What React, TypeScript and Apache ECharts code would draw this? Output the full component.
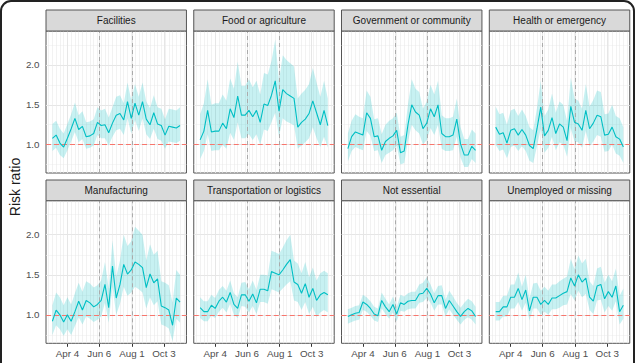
import React, { useEffect, useRef } from 'react';
import * as echarts from 'echarts';

const panelNames = ['Facilities', 'Food or agriculture', 'Government or community', 'Health or emergency', 'Manufacturing', 'Transportation or logistics', 'Not essential', 'Unemployed or missing'];

const xTickPos = [4, 12.5, 21.2, 29.7];
const xTickLabels = ['Apr 4', 'Jun 6', 'Aug 1', 'Oct 3'];
const refLinePos = [12.5, 21.2];
const yTickValues = [1.0, 1.5, 2.0];
const yGridMinor = [0.75, 1.25, 1.75, 2.25];

const facMid = [1.08,1.12,1.02,0.97,1.08,1.2,1.33,1.19,1.23,1.1,1.11,1.14,1.28,1.24,1.25,1.15,1.27,1.37,1.39,1.31,1.54,1.33,1.52,1.37,1.54,1.32,1.25,1.4,1.26,1.24,1.12,1.23,1.22,1.21,1.24];
const facHi = [1.26,1.3,1.2,1.14,1.26,1.38,1.53,1.37,1.42,1.28,1.29,1.32,1.47,1.43,1.45,1.34,1.47,1.6,1.62,1.52,1.78,1.56,1.76,1.6,1.78,1.54,1.46,1.62,1.47,1.45,1.32,1.45,1.44,1.43,1.47];
const facLo = [0.92,0.96,0.87,0.83,0.93,1.04,1.16,1.03,1.07,0.95,0.96,0.99,1.12,1.08,1.08,0.99,1.1,1.18,1.2,1.12,1.33,1.14,1.31,1.17,1.33,1.13,1.07,1.2,1.07,1.05,0.95,1.04,1.03,1.02,1.05];

const foodMid = [1.06,1.17,1.43,1.16,1.17,1.17,1.27,1.2,1.45,1.34,1.61,1.37,1.37,1.43,1.35,1.43,1.28,1.51,1.49,1.62,1.8,1.42,1.69,1.64,1.61,1.58,1.22,1.28,1.32,1.39,1.55,1.4,1.25,1.43,1.24];
const foodHi = [1.38,1.52,1.82,1.5,1.52,1.52,1.63,1.55,1.83,1.7,2.04,1.74,1.74,1.82,1.72,1.8,1.63,1.9,1.88,2.05,2.32,1.8,2.12,2.06,2.02,1.98,1.58,1.64,1.69,1.76,1.96,1.78,1.6,1.8,1.58];
const foodLo = [0.82,0.92,1.13,0.92,0.93,0.93,1.0,0.95,1.15,1.06,1.28,1.08,1.08,1.13,1.06,1.13,1.0,1.19,1.17,1.28,1.4,1.1,1.33,1.29,1.27,1.24,0.95,0.99,1.03,1.08,1.22,1.08,0.97,1.1,0.96];

const govMid = [0.95,1.1,1.16,1.14,1.12,1.4,1.33,1.1,1.11,0.93,1.04,1.08,1.11,1.18,0.9,0.92,1.25,1.5,1.41,1.37,1.2,1.27,1.45,1.35,1.5,1.14,1.1,1.1,1.12,1.32,1.01,0.87,0.87,0.98,0.93];
const govHi = [1.14,1.3,1.38,1.35,1.33,1.68,1.6,1.32,1.33,1.13,1.25,1.3,1.33,1.4,1.1,1.12,1.5,1.82,1.7,1.66,1.45,1.54,1.75,1.63,1.8,1.37,1.33,1.33,1.35,1.58,1.22,1.07,1.07,1.19,1.14];
const govLo = [0.79,0.92,0.97,0.95,0.93,1.17,1.11,0.92,0.93,0.77,0.87,0.9,0.93,0.99,0.75,0.77,1.04,1.25,1.18,1.14,1.0,1.06,1.21,1.12,1.25,0.95,0.92,0.92,0.93,1.1,0.84,0.72,0.72,0.82,0.77];

const healthMid = [1.22,1.13,1.15,1.02,1.18,1.2,1.12,1.19,1.12,0.99,0.95,1.2,1.47,1.11,1.18,1.34,1.14,1.26,1.22,1.05,1.48,1.28,1.26,1.18,1.43,1.2,1.27,1.37,1.35,1.12,1.13,1.22,1.1,1.07,0.97];
const healthHi = [1.48,1.38,1.4,1.25,1.43,1.45,1.36,1.44,1.36,1.22,1.18,1.46,1.8,1.36,1.44,1.64,1.4,1.54,1.5,1.3,1.84,1.58,1.55,1.45,1.76,1.48,1.56,1.68,1.66,1.38,1.39,1.5,1.36,1.33,1.22];
const healthLo = [1.0,0.92,0.94,0.83,0.97,0.99,0.92,0.98,0.92,0.8,0.77,0.98,1.2,0.9,0.96,1.1,0.93,1.03,1.0,0.85,1.21,1.04,1.03,0.96,1.17,0.98,1.04,1.12,1.1,0.91,0.92,1.0,0.89,0.86,0.77];

const mfgMid = [0.92,1.06,1.0,0.91,1.0,0.92,1.04,1.17,1.06,1.18,1.15,1.1,1.13,1.18,1.38,1.09,1.61,1.21,1.38,1.63,1.51,1.56,1.66,1.63,1.59,1.34,1.51,1.4,1.45,1.11,1.09,1.06,0.87,1.21,1.16];
const mfgHi = [1.12,1.28,1.22,1.12,1.22,1.13,1.27,1.4,1.29,1.42,1.39,1.34,1.37,1.43,1.66,1.33,1.93,1.48,1.68,2.0,1.86,1.92,2.1,2.05,2.0,1.68,1.88,1.75,1.8,1.42,1.4,1.37,1.15,1.56,1.5];
const mfgLo = [0.75,0.87,0.82,0.74,0.82,0.75,0.86,0.97,0.88,0.98,0.95,0.91,0.94,0.98,1.15,0.9,1.35,1.0,1.14,1.35,1.24,1.28,1.35,1.32,1.28,1.08,1.22,1.12,1.17,0.88,0.86,0.83,0.67,0.95,0.9];

const trMid = [1.09,1.04,1.04,1.12,1.08,1.17,1.22,1.16,1.28,1.13,1.08,1.25,1.25,1.17,1.26,1.15,1.32,1.32,1.3,1.54,1.52,1.5,1.56,1.63,1.69,1.41,1.38,1.27,1.39,1.22,1.33,1.18,1.25,1.28,1.25];
const trHi = [1.22,1.17,1.17,1.25,1.21,1.31,1.36,1.3,1.43,1.27,1.22,1.4,1.41,1.32,1.43,1.31,1.5,1.5,1.49,1.8,1.78,1.76,1.84,1.93,2.0,1.68,1.64,1.52,1.66,1.47,1.59,1.43,1.52,1.55,1.52];
const trLo = [0.96,0.92,0.92,0.99,0.96,1.04,1.09,1.03,1.14,1.0,0.96,1.11,1.1,1.03,1.11,1.01,1.16,1.16,1.14,1.32,1.3,1.28,1.33,1.38,1.42,1.18,1.16,1.06,1.16,1.01,1.1,0.97,1.03,1.06,1.03];

const neMid = [0.98,1.0,1.02,1.03,1.16,1.13,1.08,1.01,0.99,1.18,1.1,1.04,1.13,1.01,1.15,1.13,1.17,1.18,1.18,1.26,1.27,1.33,1.26,1.15,1.24,1.24,1.08,1.18,1.11,1.04,0.98,1.04,1.08,1.05,0.98];
const neHi = [1.07,1.09,1.11,1.12,1.25,1.22,1.17,1.1,1.08,1.28,1.2,1.13,1.23,1.1,1.25,1.23,1.27,1.29,1.29,1.38,1.4,1.47,1.38,1.27,1.36,1.37,1.19,1.3,1.23,1.15,1.09,1.15,1.2,1.17,1.1];
const neLo = [0.89,0.91,0.93,0.94,1.06,1.04,0.99,0.93,0.91,1.08,1.01,0.95,1.03,0.92,1.05,1.04,1.07,1.08,1.08,1.15,1.16,1.21,1.15,1.05,1.13,1.13,0.98,1.07,1.0,0.94,0.88,0.94,0.97,0.94,0.88];

const unMid = [1.04,1.04,1.1,1.1,1.22,1.22,1.33,1.19,1.31,1.05,1.22,1.22,1.13,1.18,1.13,1.21,1.21,1.24,1.27,1.29,1.46,1.36,1.5,1.41,1.46,1.22,1.17,1.36,1.38,1.2,1.29,1.22,1.36,1.04,1.12];
const unHi = [1.16,1.16,1.24,1.24,1.38,1.38,1.53,1.35,1.5,1.2,1.39,1.4,1.3,1.35,1.3,1.38,1.38,1.42,1.45,1.48,1.7,1.57,1.74,1.64,1.7,1.42,1.36,1.58,1.6,1.4,1.5,1.42,1.58,1.24,1.33];
const unLo = [0.93,0.93,0.98,0.98,1.08,1.08,1.16,1.05,1.15,0.93,1.08,1.08,1.0,1.04,1.0,1.07,1.07,1.09,1.12,1.13,1.26,1.18,1.3,1.22,1.26,1.06,1.01,1.18,1.19,1.03,1.11,1.05,1.17,0.88,0.95];

const mids = [facMid, foodMid, govMid, healthMid, mfgMid, trMid, neMid, unMid];
const his = [facHi, foodHi, govHi, healthHi, mfgHi, trHi, neHi, unHi];
const los = [facLo, foodLo, govLo, healthLo, mfgLo, trLo, neLo, unLo];

const FONT = '"Liberation Sans", Arial, Helvetica, sans-serif';
const LINE_COLOR = '#00BFC4';
const RIBBON = 'rgba(0,191,196,0.22)';

const colLefts = [46, 193.75, 341.5, 489.3];
const panelW = 140.45;
const panelTops = [31, 200.7];
const panelHs = [142, 142.6];
const stripTops = [10, 180];
const X_MIN = -1.7;
const X_MAX = 35.7;
const Y_MIN = 0.645;
const Y_MAX = 2.425;

export default function App() {
  const ref = useRef<HTMLDivElement>(null);
  useEffect(() => {
    if (!ref.current) return;
    const chart = echarts.init(ref.current, null, { renderer: 'svg' });
    const grids: any[] = [];
    const xAxes: any[] = [];
    const yAxes: any[] = [];
    const series: any[] = [];
    const graphics: any[] = [];

    const gridLineData: any[] = [];
    yTickValues.forEach(v => gridLineData.push({ yAxis: v, lineStyle: { color: '#e6e6e6', width: 1, type: 'solid' } }));
    yGridMinor.forEach(v => gridLineData.push({ yAxis: v, lineStyle: { color: '#f0f0f0', width: 0.6, type: 'solid' } }));
    for (let i = Math.ceil(X_MIN); i <= Math.floor(X_MAX); i++) {
      gridLineData.push({ xAxis: i, lineStyle: { color: '#eaeaea', width: 0.6, type: 'solid' } });
    }
    xTickPos.forEach(v => gridLineData.push({ xAxis: v, lineStyle: { color: '#e6e6e6', width: 1, type: 'solid' } }));

    for (let k = 0; k < 8; k++) {
      const row = Math.floor(k / 4);
      const col = k % 4;
      const left = colLefts[col];
      const top = panelTops[row];
      const h = panelHs[row];
      grids.push({ left, top, width: panelW, height: h, show: true, backgroundColor: '#ffffff', borderColor: '#555555', borderWidth: 1, containLabel: false });
      const bottomRow = row === 1;
      const leftCol = col === 0;
      xAxes.push({
        type: 'value', gridIndex: k, min: X_MIN, max: X_MAX,
        splitLine: { show: false }, axisLine: { show: false },
        axisTick: { show: bottomRow, customValues: xTickPos, length: 3.5, lineStyle: { color: '#333333', width: 1 } },
        axisLabel: {
          show: bottomRow, customValues: xTickPos, margin: 5, fontSize: 9.8, color: '#4d4d4d', fontFamily: FONT,
          formatter: (v: number) => {
            const idx = xTickPos.findIndex(p => Math.abs(p - v) < 1e-6);
            return idx >= 0 ? xTickLabels[idx] : '';
          },
        },
      });
      yAxes.push({
        type: 'value', gridIndex: k, min: Y_MIN, max: Y_MAX,
        splitLine: { show: false }, axisLine: { show: false },
        axisTick: { show: leftCol, customValues: yTickValues, length: 3.5, lineStyle: { color: '#333333', width: 1 } },
        axisLabel: { show: leftCol, customValues: yTickValues, margin: 6.5, fontSize: 9.8, color: '#4d4d4d', fontFamily: FONT, formatter: (v: number) => v.toFixed(1) },
      });
      const mid = mids[k];
      const hi = his[k];
      const lo = los[k];
      series.push({
        type: 'custom', xAxisIndex: k, yAxisIndex: k, silent: true, z: 2, clip: true,
        data: hi.map((v, i) => [i, v, lo[i]]),
        encode: { x: 0, y: [1, 2] },
        renderItem: (params: any, api: any) => {
          if (params.dataIndex !== 0) return null;
          const pts: number[][] = [];
          for (let i = 0; i < hi.length; i++) pts.push(api.coord([i, hi[i]]));
          for (let i = lo.length - 1; i >= 0; i--) pts.push(api.coord([i, lo[i]]));
          return { type: 'polygon', shape: { points: pts }, style: { fill: RIBBON, stroke: 'none' } };
        },
      });
      series.push({
        type: 'line', xAxisIndex: k, yAxisIndex: k,
        data: mid.map((v, i) => [i, v]), symbol: 'none', silent: true, z: 4,
        lineStyle: { color: LINE_COLOR, width: 1.1 },
        markLine: { silent: true, symbol: ['none', 'none'], label: { show: false }, z: 1, animation: false, data: gridLineData },
      });
      series.push({
        type: 'line', xAxisIndex: k, yAxisIndex: k,
        data: mid.map((v, i) => [i, v]), symbol: 'none', silent: true, z: 3,
        lineStyle: { opacity: 0, width: 0 },
        markLine: {
          silent: true, symbol: ['none', 'none'], label: { show: false }, z: 3, animation: false,
          data: [
            { yAxis: 1.0, lineStyle: { color: '#F8766D', width: 1, type: [5, 3] } },
            ...refLinePos.map(p => ({ xAxis: p, lineStyle: { color: '#ababab', width: 1, type: [4, 3] } })),
          ],
        },
      });
      const sTop = stripTops[row];
      const sH = top - sTop;
      graphics.push({ type: 'rect', shape: { x: left, y: sTop, width: panelW, height: sH }, style: { fill: '#d9d9d9', stroke: '#555555', lineWidth: 1 }, z: 10 });
      graphics.push({ type: 'text', x: left + panelW / 2, y: sTop + sH / 2, style: { text: panelNames[k], align: 'center', verticalAlign: 'middle', fill: '#1a1a1a', fontSize: 10, fontFamily: FONT }, z: 11 });
    }
    graphics.push({ type: 'text', x: 15, y: 187, rotation: Math.PI / 2, style: { text: 'Risk ratio', align: 'center', verticalAlign: 'middle', fill: '#1a1a1a', fontSize: 14, fontFamily: FONT }, z: 11 });
    graphics.push({ type: 'rect', shape: { x: 1, y: 1, width: 633, height: 390, r: 10 }, style: { fill: 'none', stroke: '#222222', lineWidth: 2 }, z: 20 });

    chart.setOption({
      animation: false,
      backgroundColor: '#ffffff',
      textStyle: { fontFamily: FONT },
      grid: grids,
      xAxis: xAxes,
      yAxis: yAxes,
      series,
      graphic: graphics,
    });
    return () => chart.dispose();
  }, []);
  return <div ref={ref} style={{ position: 'fixed', left: 0, top: 0, width: 640, height: 363, background: '#ffffff' }} />;
}
